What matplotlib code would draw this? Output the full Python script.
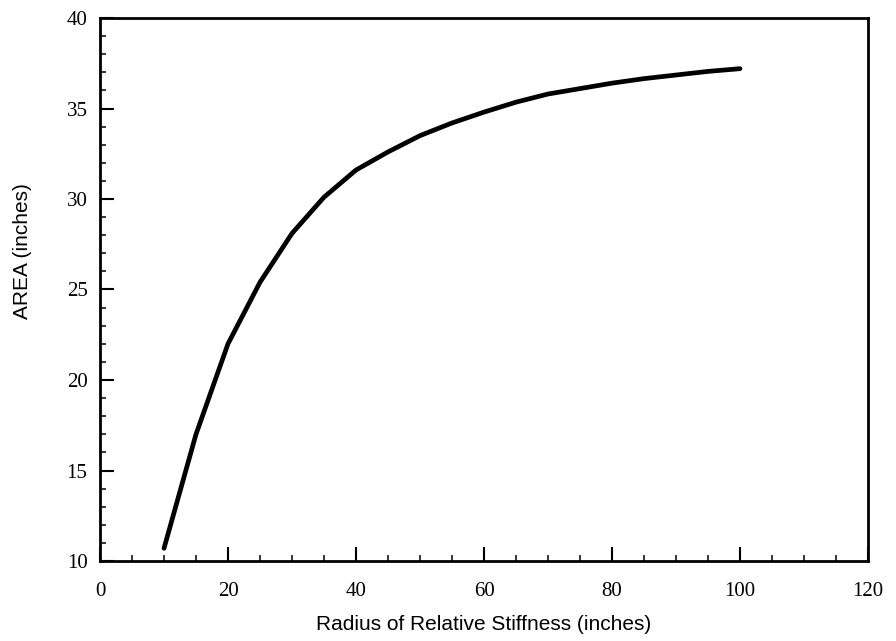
import matplotlib
matplotlib.use("Agg")
import matplotlib.pyplot as plt
from matplotlib.ticker import MultipleLocator

radius = [10, 15, 20, 25, 30, 35, 40, 45, 50, 55, 60, 65, 70, 75, 80, 85, 90, 95, 100]
area = [10.7, 17.0, 22.0, 25.4, 28.1, 30.1, 31.6, 32.6, 33.5, 34.2, 34.8, 35.35, 35.8,
        36.1, 36.4, 36.65, 36.85, 37.05, 37.2]

xlabel = "Radius of Relative Stiffness (inches)"
ylabel = "AREA (inches)"

fig = plt.figure(figsize=(8.96, 6.41), dpi=100)
ax = fig.add_axes([100/896, 1-561/641, 768/896, 543/641])

ax.plot(radius, area, color="black", lw=3.4, solid_capstyle="round")

ax.set_xlim(0, 120)
ax.set_ylim(10, 40)
ax.xaxis.set_major_locator(MultipleLocator(20))
ax.xaxis.set_minor_locator(MultipleLocator(5))
ax.yaxis.set_major_locator(MultipleLocator(5))
ax.yaxis.set_minor_locator(MultipleLocator(1))

for s in ax.spines.values():
    s.set_linewidth(2.0)

ax.tick_params(which="major", direction="in", length=10, width=1.5, labelsize=15)
ax.tick_params(which="minor", direction="in", length=4, width=1.1)
ax.tick_params(axis="x", which="major", pad=15)
ax.tick_params(axis="y", which="major", pad=9)
for lab in ax.get_xticklabels() + ax.get_yticklabels():
    lab.set_fontfamily("Liberation Serif")

ax.set_xlabel(xlabel, fontfamily="Liberation Sans", fontsize=15, labelpad=10)
ax.set_ylabel(ylabel, fontfamily="Liberation Sans", fontsize=15)
ax.yaxis.set_label_coords(-0.088, 0.57)

fig.savefig("out.png", dpi=100)
